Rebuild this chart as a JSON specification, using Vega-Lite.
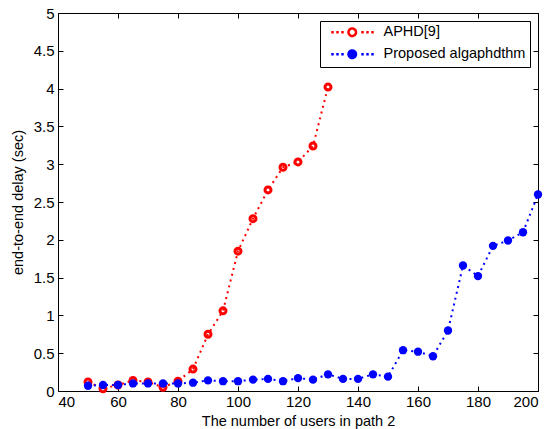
{
"$schema":"https://vega.github.io/schema/vega-lite/v6.json",
"width":480,"height":378,"autosize":"none",
"padding":{"left":58,"top":13,"right":13,"bottom":38},
"background":"white",
"config":{"font":"Liberation Sans","view":{"stroke":"black","strokeWidth":1},
 "axis":{"grid":false,"domain":false,"tickColor":"black","tickSize":5,"tickWidth":1,"labelColor":"black","titleColor":"black","labelFontSize":15,"titleFontSize":14.5,"titleFontWeight":"normal","labelFont":"Liberation Sans","titleFont":"Liberation Sans"}},
"data":{"values":[
{"series":"APHD[9]","users":50,"delay":0.12},
{"series":"APHD[9]","users":55,"delay":0.03},
{"series":"APHD[9]","users":60,"delay":0.08},
{"series":"APHD[9]","users":65,"delay":0.14},
{"series":"APHD[9]","users":70,"delay":0.12},
{"series":"APHD[9]","users":75,"delay":0.05},
{"series":"APHD[9]","users":80,"delay":0.13},
{"series":"APHD[9]","users":85,"delay":0.29},
{"series":"APHD[9]","users":90,"delay":0.75},
{"series":"APHD[9]","users":95,"delay":1.06},
{"series":"APHD[9]","users":100,"delay":1.85},
{"series":"APHD[9]","users":105,"delay":2.28},
{"series":"APHD[9]","users":110,"delay":2.66},
{"series":"APHD[9]","users":115,"delay":2.96},
{"series":"APHD[9]","users":120,"delay":3.03},
{"series":"APHD[9]","users":125,"delay":3.24},
{"series":"APHD[9]","users":130,"delay":4.02},
{"series":"Proposed algaphdthm","users":50,"delay":0.07},
{"series":"Proposed algaphdthm","users":55,"delay":0.08},
{"series":"Proposed algaphdthm","users":60,"delay":0.08},
{"series":"Proposed algaphdthm","users":65,"delay":0.10},
{"series":"Proposed algaphdthm","users":70,"delay":0.10},
{"series":"Proposed algaphdthm","users":75,"delay":0.10},
{"series":"Proposed algaphdthm","users":80,"delay":0.10},
{"series":"Proposed algaphdthm","users":85,"delay":0.11},
{"series":"Proposed algaphdthm","users":90,"delay":0.14},
{"series":"Proposed algaphdthm","users":95,"delay":0.13},
{"series":"Proposed algaphdthm","users":100,"delay":0.13},
{"series":"Proposed algaphdthm","users":105,"delay":0.15},
{"series":"Proposed algaphdthm","users":110,"delay":0.16},
{"series":"Proposed algaphdthm","users":115,"delay":0.13},
{"series":"Proposed algaphdthm","users":120,"delay":0.17},
{"series":"Proposed algaphdthm","users":125,"delay":0.15},
{"series":"Proposed algaphdthm","users":130,"delay":0.22},
{"series":"Proposed algaphdthm","users":135,"delay":0.16},
{"series":"Proposed algaphdthm","users":140,"delay":0.16},
{"series":"Proposed algaphdthm","users":145,"delay":0.22},
{"series":"Proposed algaphdthm","users":150,"delay":0.19},
{"series":"Proposed algaphdthm","users":155,"delay":0.54},
{"series":"Proposed algaphdthm","users":160,"delay":0.52},
{"series":"Proposed algaphdthm","users":165,"delay":0.46},
{"series":"Proposed algaphdthm","users":170,"delay":0.80},
{"series":"Proposed algaphdthm","users":175,"delay":1.66},
{"series":"Proposed algaphdthm","users":180,"delay":1.52},
{"series":"Proposed algaphdthm","users":185,"delay":1.92},
{"series":"Proposed algaphdthm","users":190,"delay":1.99},
{"series":"Proposed algaphdthm","users":195,"delay":2.10},
{"series":"Proposed algaphdthm","users":200,"delay":2.60}
]},
"layer":[
 {"mark":{"type":"line","strokeDash":[2,4],"strokeWidth":2},
  "encoding":{
   "x":{"field":"users","type":"quantitative","scale":{"domain":[40,200],"nice":false},"axis":{"orient":"bottom","values":[40,60,80,100,120,140,160,180,200],"ticks":false,"title":"The number of users in path 2","labelPadding":3,"titlePadding":5}},
   "y":{"field":"delay","type":"quantitative","scale":{"domain":[0,5],"nice":false},"axis":{"orient":"left","values":[0,0.5,1,1.5,2,2.5,3,3.5,4,4.5,5],"ticks":false,"format":"~g","title":"end-to-end delay (sec)","labelPadding":4,"titlePadding":8}},
   "color":{"field":"series","type":"nominal","scale":{"domain":["APHD[9]","Proposed algaphdthm"],"range":["#ff0000","#0000ff"]},
     "legend":{"title":null,"orient":"top-right","offset":8,"strokeColor":"black","fillColor":"white","padding":4,
       "symbolType":"M0,0L0.5,0M1,0L1.5,0M2,0L2.5,0M6,0L6.5,0M7,0L7.5,0M8,0L8.5,0M3.45,0A0.75,0.75,0,1,1,4.95,0A0.75,0.75,0,1,1,3.45,0Z",
       "symbolSize":100,"symbolStrokeWidth":2.5,"symbolDash":[1,0],"labelFontSize":14.5,"labelFont":"Liberation Sans","labelColor":"black","labelOffset":45,"rowPadding":4,
       "encode":{"symbols":{"update":{"fill":{"signal":"datum.value === 'APHD[9]' ? 'transparent' : '#0000ff'"}}}}}}
  }},
 {"transform":[{"filter":"datum.series == 'APHD[9]'"}],
  "mark":{"type":"point","shape":"circle","filled":false,"color":"#ff0000","strokeWidth":3,"size":36,"opacity":1},
  "encoding":{"x":{"field":"users","type":"quantitative","axis":null},"y":{"field":"delay","type":"quantitative","axis":null}}},
 {"transform":[{"filter":"datum.series == 'Proposed algaphdthm'"}],
  "mark":{"type":"point","shape":"circle","filled":true,"color":"#0000ff","size":70,"opacity":1},
  "encoding":{"x":{"field":"users","type":"quantitative","axis":null},"y":{"field":"delay","type":"quantitative","axis":null}}},
 {"mark":{"type":"point","opacity":0},
  "encoding":{"x":{"field":"users","type":"quantitative","axis":{"orient":"bottom","offset":-5,"values":[40,60,80,100,120,140,160,180,200],"labels":false,"title":null}},
   "y":{"field":"delay","type":"quantitative","axis":{"orient":"left","offset":-5,"values":[0,0.5,1,1.5,2,2.5,3,3.5,4,4.5,5],"labels":false,"title":null}}}},
 {"mark":{"type":"point","opacity":0},
  "encoding":{"x":{"field":"users","type":"quantitative","axis":{"orient":"top","offset":-5,"values":[40,60,80,100,120,140,160,180,200],"labels":false,"title":null}},
   "y":{"field":"delay","type":"quantitative","axis":{"orient":"right","offset":-5,"values":[0,0.5,1,1.5,2,2.5,3,3.5,4,4.5,5],"labels":false,"title":null}}}}
],
"resolve":{"axis":{"x":"independent","y":"independent"}}
}
